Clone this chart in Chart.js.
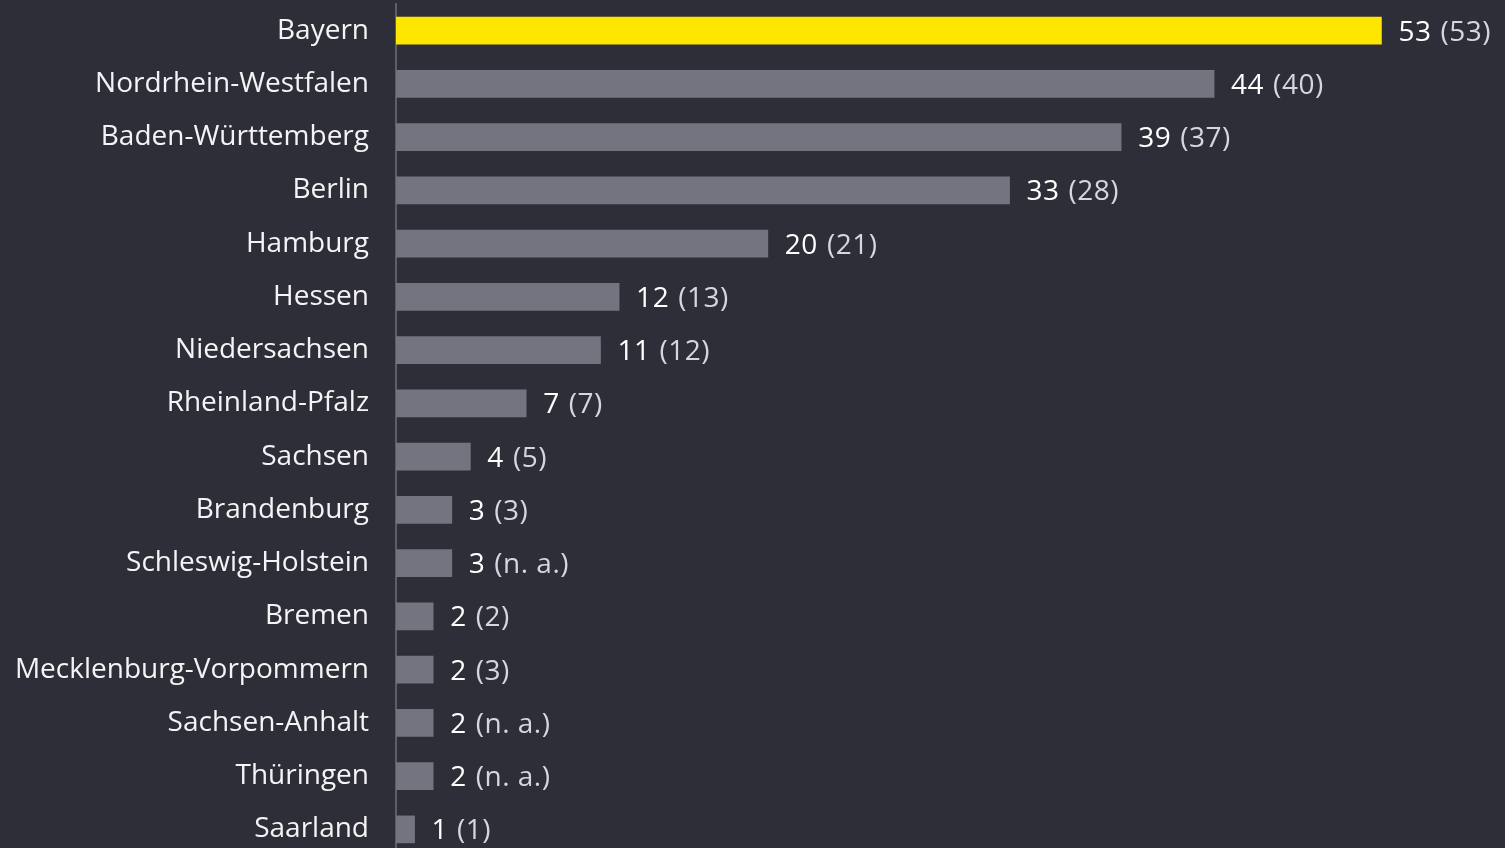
<!DOCTYPE html>
<html>
<head>
<meta charset="utf-8">
<script src="https://cdn.jsdelivr.net/npm/chart.js@4/dist/chart.umd.min.js"></script>
<style>
    html, body { margin: 0; padding: 0; background: #2e2e38; overflow: hidden; }
    #wrap { position: relative; width: 1505px; height: 856px; }
</style>
</head>
<body>
<div id="wrap"><canvas id="chart"></canvas></div>
<script>
const categories = ['Bayern', 'Nordrhein-Westfalen', 'Baden-Württemberg', 'Berlin', 'Hamburg', 'Hessen',
    'Niedersachsen', 'Rheinland-Pfalz', 'Sachsen', 'Brandenburg', 'Schleswig-Holstein', 'Bremen',
    'Mecklenburg-Vorpommern', 'Sachsen-Anhalt', 'Thüringen', 'Saarland'];
const values = [53, 44, 39, 33, 20, 12, 11, 7, 4, 3, 3, 2, 2, 2, 2, 1];
const previous = ['53', '40', '37', '28', '21', '13', '12', '7', '5', '3', 'n. a.', '2', '3', 'n. a.', 'n. a.', '1'];

document.addEventListener('DOMContentLoaded', () => {
    const fontFamily = '"Open Sans", "Noto Sans", sans-serif';

    // value + previous year label to the right of each bar
    const valueLabels = {
        id: 'valueLabels',
        afterDatasetsDraw(chart) {
            const ctx = chart.ctx;
            const meta = chart.getDatasetMeta(0);
            ctx.save();
            ctx.font = '28px ' + fontFamily;
            ctx.letterSpacing = '0.5px';
            ctx.textBaseline = 'middle';
            ctx.textAlign = 'left';
            meta.data.forEach((bar, i) => {
                const main = String(values[i]);
                const x = bar.x + 17;
                ctx.fillStyle = '#ffffff';
                ctx.fillText(main, x, bar.y + 2);
                const w = ctx.measureText(main).width;
                ctx.fillStyle = '#d6d6dc';
                ctx.fillText('(' + previous[i] + ')', x + w + 9, bar.y + 2);
            });
            ctx.restore();
        },
    };

    new Chart(document.getElementById('chart'), {
        type: 'bar',
        data: {
            labels: categories,
            datasets: [{
                data: values,
                backgroundColor: values.map((v, i) => i === 0 ? '#ffe600' : '#747480'),
                borderWidth: 0,
                barThickness: 27,
            }],
        },
        options: {
            indexAxis: 'y',
            responsive: true,
            maintainAspectRatio: false,
            animation: false,
            layout: { padding: { top: 4, right: 12, bottom: 0, left: 0 } },
            plugins: {
                legend: { display: false },
                tooltip: { enabled: false },
            },
            scales: {
                x: {
                    display: false,
                    min: 0,
                    max: 59,
                },
                y: {
                    afterFit: (scale) => {
                        scale.width = 396;
                        scale.paddingTop = 0;
                        scale.paddingBottom = 0;
                    },
                    grid: { display: false, drawTicks: false },
                    border: { display: true, color: '#5e5e6a', width: 2 },
                    ticks: {
                        color: '#f4f4f6',
                        padding: 27,
                        font: { family: fontFamily, size: 28 },
                    },
                },
            },
        },
        plugins: [valueLabels],
    });
});
</script>
</body>
</html>
